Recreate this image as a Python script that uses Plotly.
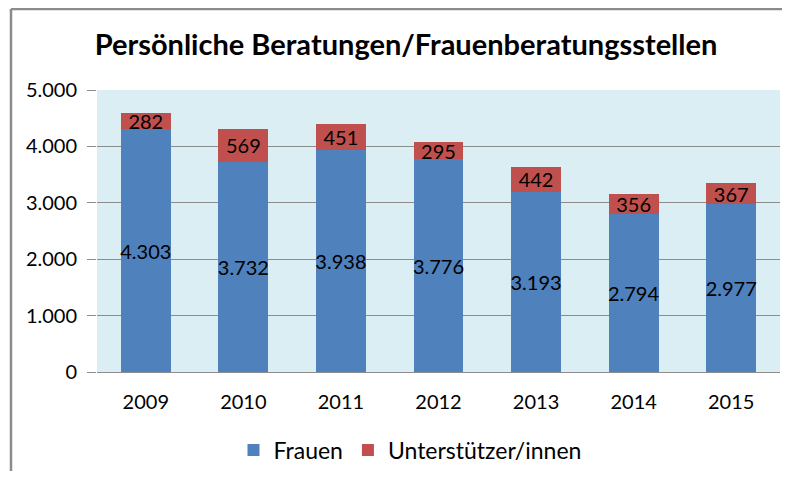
import plotly.graph_objects as go

years = ["2009", "2010", "2011", "2012", "2013", "2014", "2015"]
frauen = [4303, 3732, 3938, 3776, 3193, 2794, 2977]
unterstuetzer = [282, 569, 451, 295, 442, 356, 367]
y_ticks = [0, 1000, 2000, 3000, 4000, 5000]
y_ticklabels = ["0", "1.000", "2.000", "3.000", "4.000", "5.000"]

def de(v):
    return f"{v:,}".replace(",", ".")

FONT = "Lato, 'Open Sans', sans-serif"
FS = 20

fig = go.Figure()
fig.add_trace(go.Bar(
    x=years, y=frauen, name="Frauen",
    marker=dict(color="#4F81BD", line=dict(width=0)),
    text=[de(v) for v in frauen], textposition="inside", insidetextanchor="middle",
    constraintext="none", cliponaxis=False,
    textfont=dict(color="#000000", size=FS, family=FONT),
    textangle=0,
))
fig.add_trace(go.Bar(
    x=years, y=unterstuetzer, name="Unterstützer/innen",
    marker=dict(color="#C0504D", line=dict(width=0)),
    text=[de(v) for v in unterstuetzer], textposition="inside", insidetextanchor="middle",
    constraintext="none", cliponaxis=False,
    textfont=dict(color="#000000", size=FS, family=FONT),
    textangle=0,
))

# the page body has an 8px margin, so the figure is sized to fit inside the window
W, H = 774, 463
L, R, T, B = 89, 2, 82, 99
pw, ph = W - L - R, H - T - B
bx = (3 - L) / pw
by = 1 + (T - 1) / ph
ex = (W - L) / pw
ey = -(H - T - ph) / ph

border = dict(color="#8C8C8C", width=2.5)
fig.update_layout(
    width=W, height=H, autosize=False,
    barmode="stack", bargap=0.488,
    margin=dict(l=L, r=R, t=T, b=B, autoexpand=False),
    paper_bgcolor="#FFFFFF", plot_bgcolor="#DBEEF4",
    font=dict(family=FONT, size=FS, color="#000000"),
    title=dict(text="<b>Persönliche Beratungen/Frauenberatungsstellen</b>",
               x=398 / W, xanchor="center", xref="container", y=1 - 37 / H, yanchor="middle",
               yref="container",
               font=dict(size=29, family=FONT, color="#000000")),
    legend=dict(orientation="h", x=(402 - L) / pw, xanchor="center", y=(T + ph - 442) / ph,
                yanchor="middle", font=dict(size=23, family=FONT), traceorder="normal"),
    showlegend=True,
    shapes=[
        dict(type="line", xref="paper", yref="paper", x0=bx, x1=bx, y0=ey, y1=by, line=border),
        dict(type="line", xref="paper", yref="paper", x0=bx, x1=ex, y0=by, y1=by, line=border),
    ],
)
fig.update_xaxes(showgrid=False, showline=False, ticks="", tickfont=dict(size=FS),
                 tickangle=0, automargin=False, ticklabelstandoff=16)
fig.update_yaxes(range=[0, 5000], tickvals=y_ticks, ticktext=y_ticklabels,
                 showgrid=True, gridcolor="#8C8C8C", gridwidth=1.3,
                 ticks="outside", ticklen=9, tickcolor="#8C8C8C", tickwidth=1.3,
                 zeroline=True, zerolinecolor="#8C8C8C", zerolinewidth=1.3,
                 tickfont=dict(size=FS), automargin=False, ticklabelstandoff=6)

fig.write_html("out.html", config={"displayModeBar": False})
